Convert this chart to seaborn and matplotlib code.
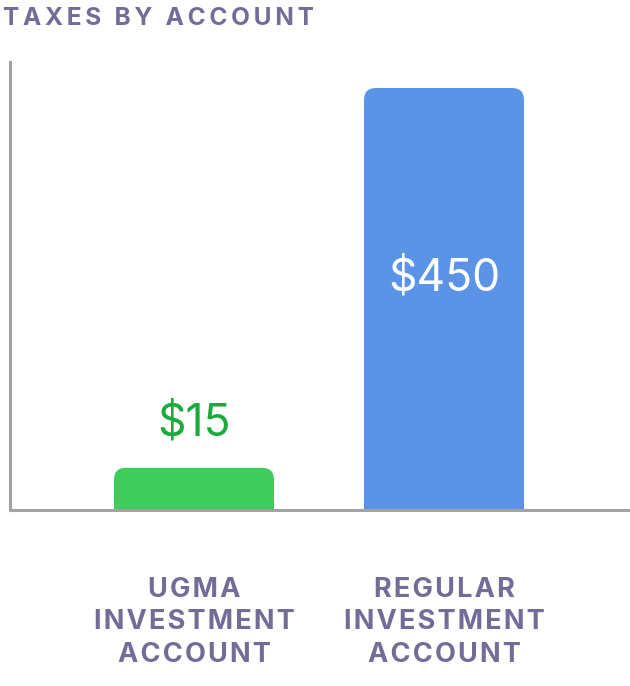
import numpy as np
import pandas as pd
import matplotlib
matplotlib.use("Agg")
import matplotlib.pyplot as plt
import seaborn as sns
from matplotlib.patches import FancyBboxPatch

accounts = ["UGMA\nINVESTMENT\nACCOUNT", "REGULAR\nINVESTMENT\nACCOUNT"]
taxes = [15, 450]
value_labels = ["$15", "$450"]
bar_colors = ["#3ecc5c", "#5b93e6"]
label_colors = ["#1aab3c", "#ffffff"]

TEXT = "#756b99"
AXIS = "#a3a3a3"


def spaced(s, gap="\u200a"):
    # fake letter spacing, matplotlib has no tracking
    return "\n".join(gap.join(list(line)) for line in s.split("\n"))


sns.set_style("white")
plt.rcParams['font.family'] = ['Inter', 'DejaVu Sans']

df = pd.DataFrame({"account": accounts, "tax": taxes})
# small bars get a minimum visible height like the original design
df["shown"] = np.maximum(df["tax"], 0.1 * df["tax"].max())

fig = plt.figure(figsize=(6.3, 6.86), dpi=100)
ax = fig.add_axes([10 / 630, 1 - 510 / 686, 620 / 630, 448 / 686])

sns.barplot(data=df, x="account", y="shown", hue="account", palette=bar_colors,
            width=0.64, legend=False, ax=ax)

ax.set_xlim(-0.736, 1.744)
ax.set_ylim(0, df["tax"].max() * 448 / 422)

# swap plain bars for bars with rounded tops
fig.canvas.draw()
px_x = ax.transData.transform((1, 0))[0] - ax.transData.transform((0, 0))[0]
px_y = ax.transData.transform((0, 1))[1] - ax.transData.transform((0, 0))[1]
r = 12 / px_x
aspect = px_x / px_y
for bar, col in zip(list(ax.patches), bar_colors):
    x, w, h = bar.get_x(), bar.get_width(), bar.get_height()
    bar.set_visible(False)
    ry = r * aspect
    p = FancyBboxPatch((x, -ry), w, h + ry,
                       boxstyle=f"round,pad=0,rounding_size={r}",
                       mutation_aspect=aspect, facecolor=col, edgecolor="none",
                       clip_on=True, zorder=2)
    ax.add_patch(p)

for i, (lab, col, h) in enumerate(zip(value_labels, label_colors, df["shown"])):
    if col == "#ffffff":
        ax.annotate(lab, (i, h), xytext=(0, -190 * 0.72), textcoords="offset points",
                    ha="center", va="center", color=col, fontsize=32)
    else:
        ax.annotate(lab, (i, h), xytext=(0, 45 * 0.72), textcoords="offset points",
                    ha="center", va="center", color=col, fontsize=32)

ax.set_xlabel("")
ax.set_ylabel("")
ax.set_yticks([])
ax.set_xticks([0, 1])
ax.set_xticklabels([spaced(a) for a in accounts], fontsize=19.6, fontweight="bold",
                   color=TEXT, linespacing=1.33)
ax.tick_params(axis="x", length=0, pad=48)

for side in ["top", "right"]:
    ax.spines[side].set_visible(False)
for side in ["left", "bottom"]:
    ax.spines[side].set_color(AXIS)
    ax.spines[side].set_linewidth(2.2)
    ax.spines[side].set_zorder(3)

fig.text(3 / 630, 1 - 7 / 686, spaced("TAXES BY ACCOUNT", "\u200a\u200a"), ha="left",
         va="top", fontsize=17.6, fontweight="bold", color=TEXT)

fig.savefig("out.png", dpi=100)
